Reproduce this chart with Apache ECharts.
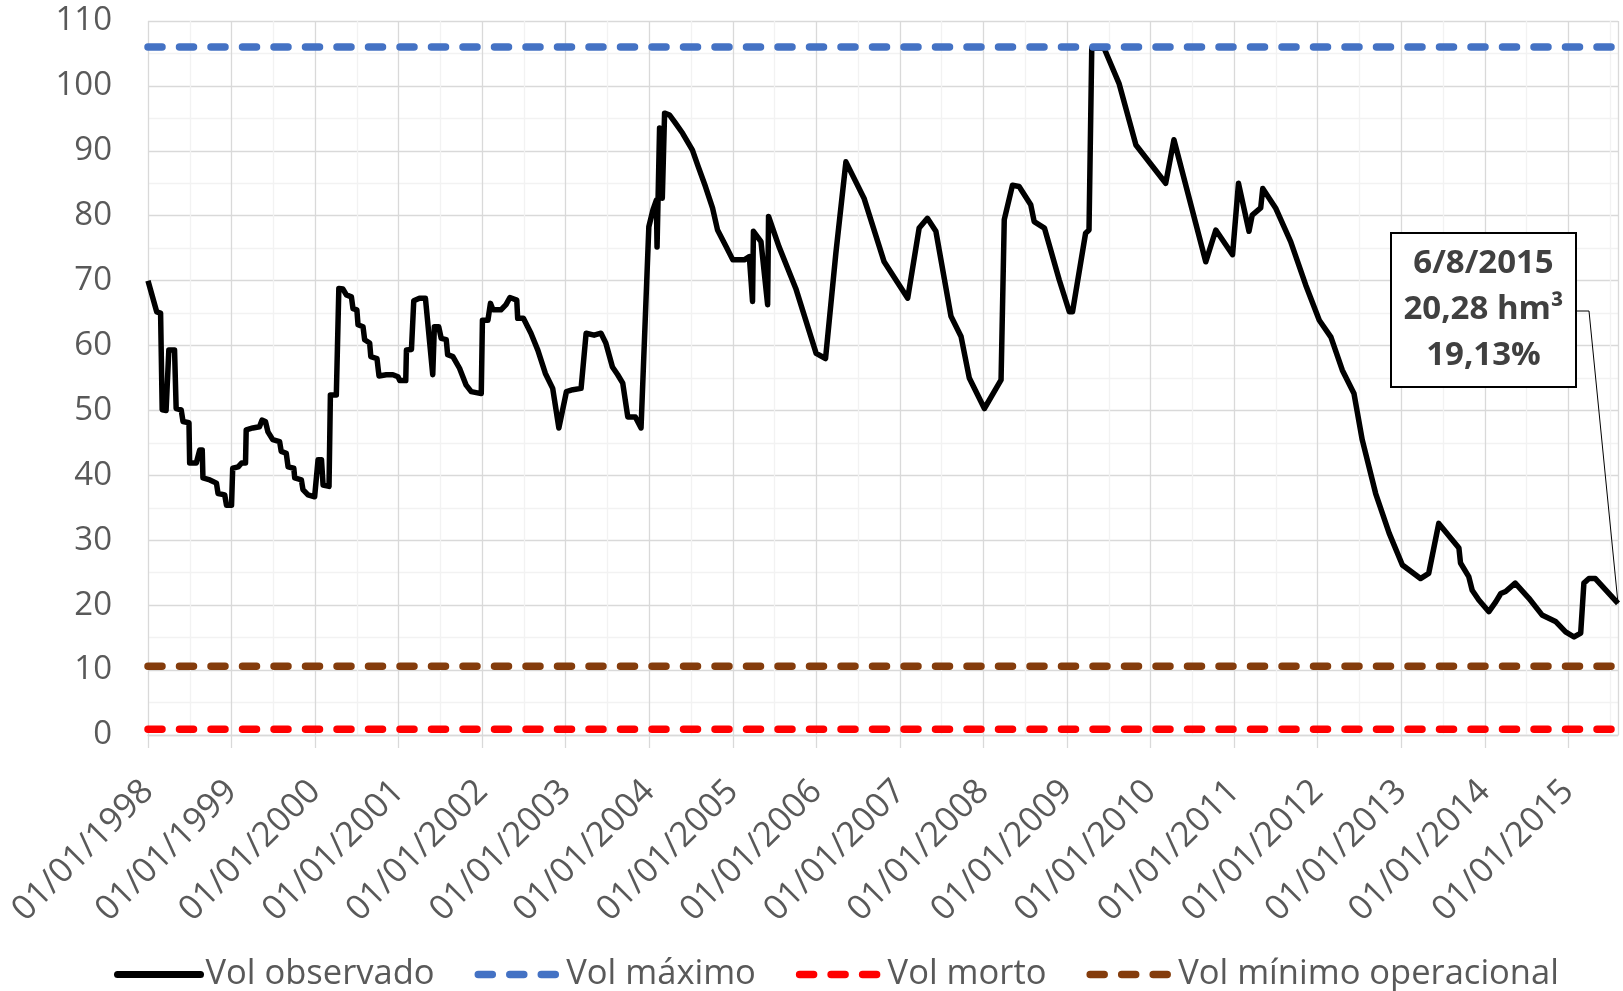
<!DOCTYPE html>
<html>
<head>
<meta charset="utf-8">
<script src="https://cdn.jsdelivr.net/npm/echarts@6/dist/echarts.min.js"></script>
<style>
  html, body { margin: 0; padding: 0; background: #fff; }
  #chart { width: 1623px; height: 991px; }
</style>
</head>
<body>
<div id="chart"></div>
<script>
// Vol observado (hm³) - datas e volumes
const dates = [
  '1998-01-01','1998-02-08','1998-02-25','1998-03-04','1998-03-21','1998-04-02','1998-04-27','1998-05-04','1998-05-26','1998-06-03',
  '1998-06-29','1998-07-02','1998-07-31','1998-08-15','1998-08-26','1998-08-29','1998-09-28','1998-10-27','1998-11-03','1998-12-02',
  '1998-12-10','1999-01-01','1999-01-06','1999-01-30','1999-02-14','1999-03-03','1999-03-06','1999-04-04','1999-05-03','1999-05-14',
  '1999-05-29','1999-06-09','1999-06-30','1999-07-30','1999-08-06','1999-08-28','1999-09-05','1999-09-30','1999-10-04','1999-11-02',
  '1999-11-09','1999-12-01','1999-12-30','2000-01-14','2000-01-29','2000-02-05','2000-03-02','2000-03-08','2000-04-03','2000-04-14',
  '2000-05-02','2000-05-17','2000-06-08','2000-06-15','2000-07-02','2000-07-07','2000-07-29','2000-08-05','2000-08-27','2000-09-01',
  '2000-09-28','2000-10-07','2000-11-08','2000-12-07','2000-12-29','2001-01-06','2001-02-01','2001-02-04','2001-02-26','2001-03-08',
  '2001-04-02','2001-04-28','2001-05-30','2001-06-06','2001-06-25','2001-07-06','2001-07-28','2001-08-03','2001-08-26','2001-09-24',
  '2001-10-23','2001-11-14','2001-12-28','2002-01-02','2002-01-26','2002-02-06','2002-02-17','2002-03-24','2002-04-15','2002-05-02',
  '2002-06-01','2002-06-05','2002-06-30','2002-08-02','2002-09-01','2002-10-04','2002-11-05','2002-12-02','2003-01-04','2003-02-01',
  '2003-03-09','2003-03-31','2003-05-05','2003-06-04','2003-06-25','2003-07-24','2003-08-16','2003-09-07','2003-09-29','2003-11-01',
  '2003-11-26','2003-12-30','2004-01-17','2004-02-01','2004-02-04','2004-02-15','2004-02-27','2004-03-08','2004-03-30','2004-04-20',
  '2004-05-26','2004-07-08','2004-07-31','2004-09-03','2004-10-04','2004-10-26','2004-11-29','2005-01-01','2005-02-20','2005-03-14',
  '2005-03-28','2005-04-01','2005-05-04','2005-06-02','2005-06-06','2005-07-22','2005-10-03','2005-12-31','2006-02-10','2006-03-27',
  '2006-05-10','2006-07-28','2006-10-24','2007-02-04','2007-03-26','2007-05-01','2007-06-07','2007-08-12','2007-09-25','2007-10-31',
  '2008-01-05','2008-03-18','2008-04-01','2008-05-07','2008-06-05','2008-07-26','2008-08-10','2008-09-24','2008-11-28','2009-01-11',
  '2009-01-25','2009-03-23','2009-04-07','2009-04-19','2009-06-12','2009-08-16','2009-10-29','2010-03-08','2010-04-13','2010-08-30',
  '2010-10-13','2010-12-25','2011-01-20','2011-03-07','2011-03-21','2011-04-27','2011-05-06','2011-07-01','2011-09-05','2011-11-10',
  '2012-01-08','2012-02-28','2012-04-18','2012-06-08','2012-07-14','2012-09-11','2012-11-09','2013-01-06','2013-03-26','2013-05-01',
  '2013-06-14','2013-09-10','2013-09-17','2013-10-23','2013-11-07','2013-12-06','2014-01-19','2014-02-18','2014-03-12','2014-04-02',
  '2014-05-14','2014-07-12','2014-09-08','2014-11-06','2014-12-20','2015-01-26','2015-02-24','2015-03-10','2015-04-01','2015-04-29',
  '2015-08-06'
]
const volObservado = [
  70.0, 65.2, 65.0, 50.1, 50.0, 59.3, 59.3, 50.3, 50.1, 48.3,
  48.1, 41.9, 41.9, 43.9, 43.9, 39.6, 39.3, 38.8, 37.2, 37.0,
  35.4, 35.4, 41.1, 41.3, 41.9, 41.9, 47.0, 47.3, 47.5, 48.5,
  48.3, 46.7, 45.5, 45.2, 43.7, 43.4, 41.3, 41.1, 39.6, 39.3,
  37.8, 37.0, 36.7, 42.4, 42.4, 38.5, 38.3, 52.4, 52.4, 68.8,
  68.7, 67.8, 67.5, 65.7, 65.5, 63.2, 62.9, 60.9, 60.4, 58.3,
  58.0, 55.3, 55.5, 55.5, 55.2, 54.6, 54.6, 59.3, 59.4, 66.9,
  67.3, 67.3, 55.5, 62.9, 62.9, 61.1, 60.9, 58.6, 58.3, 56.5,
  53.9, 52.9, 52.6, 63.9, 63.9, 66.5, 65.5, 65.5, 66.3, 67.4,
  67.0, 64.2, 64.2, 61.9, 59.3, 55.7, 53.4, 47.3, 52.9, 53.2,
  53.4, 61.9, 61.6, 61.9, 60.4, 56.7, 55.5, 54.2, 49.0, 49.0,
  47.3, 78.3, 80.9, 82.4, 75.2, 93.5, 82.7, 95.8, 95.5, 94.5,
  92.7, 90.1, 87.8, 84.5, 81.2, 77.8, 75.5, 73.2, 73.2, 73.7,
  66.8, 77.6, 76.0, 66.3, 79.9, 75.2, 68.8, 58.8, 58.0, 74.2,
  88.3, 82.7, 72.9, 67.3, 78.1, 79.6, 77.6, 64.5, 61.4, 55.0,
  50.3, 54.7, 79.4, 84.7, 84.5, 81.7, 79.1, 78.1, 70.1, 65.2,
  65.2, 77.3, 77.8, 105.8, 105.8, 100.4, 90.9, 85.0, 91.7, 72.9,
  77.8, 74.0, 85.0, 77.6, 80.1, 81.2, 84.2, 81.2, 76.0, 69.3,
  63.9, 61.3, 56.2, 52.6, 45.5, 37.2, 31.1, 26.2, 24.1, 24.9,
  32.6, 28.8, 26.5, 24.4, 22.3, 20.8, 19.0, 20.5, 21.8, 22.1,
  23.4, 21.1, 18.5, 17.5, 15.9, 15.1, 15.7, 23.4, 24.1, 24.1,
  20.28
]

// volumes de referência (hm³)
const volMaximo = 106
const volMorto = 0.9
const volMinimoOperacional = 10.6

const seriesNames = ['Vol observado', 'Vol máximo', 'Vol morto', 'Vol mínimo operacional']
const seriesColors = ['#000000', '#4472c4', '#ff0000', '#843c0c']
const yTicks = { min: 0, max: 110, interval: 10 }
const annotDate = '6/8/2015'

// data -> ano decimal (eixo em anos)
const toYear = (s) => {
  const d = new Date(s + 'T00:00:00Z')
  const y = d.getUTCFullYear()
  const a = Date.UTC(y, 0, 1)
  const b = Date.UTC(y + 1, 0, 1)
  return y + (d.getTime() - a) / (b - a)
}

const xMin = 1998
const xMax = toYear(dates[dates.length - 1])
const observado = dates.map((d, i) => [toYear(d), volObservado[i]])
const flat = (v) => [[xMin, v], [xMax, v]]

const font = 'Open Sans'
const gray = '#595959'
const dash = [14, 17.5]

const chart = echarts.init(document.getElementById('chart'))

// estilo das linhas (série e legenda)
const lineStyles = [
  { color: seriesColors[0], width: 5.5, type: 'solid', join: 'round' },
  { color: seriesColors[1], width: 7.5, type: dash, cap: 'round' },
  { color: seriesColors[2], width: 7.5, type: dash, cap: 'round' },
  { color: seriesColors[3], width: 7.5, type: dash, cap: 'round' }
]

const option = {
  backgroundColor: '#fff',
  animation: false,
  textStyle: { fontFamily: font },
  grid: { left: 148, right: 5, top: 21, bottom: 256, containLabel: false },
  legend: {
    left: 109,
    top: 952,
    itemWidth: 83,
    itemHeight: 14,
    itemGap: 40,
    data: seriesNames.map((n, i) => ({
      name: n,
      itemStyle: { opacity: 0, color: 'rgba(0,0,0,0)', borderWidth: 0 },
      lineStyle: Object.assign({}, lineStyles[i], { width: i === 0 ? 7 : 7.5, cap: 'round' })
    })),
    textStyle: { fontSize: 34.5, color: gray, fontFamily: font }
  },
  xAxis: [{
    type: 'value',
    min: xMin,
    max: xMax,
    interval: 1,
    axisLine: { show: true, lineStyle: { color: '#d9d9d9', width: 1.3 } },
    axisTick: { show: true, length: 13, lineStyle: { color: '#d9d9d9', width: 1.3 } },
    axisLabel: {
      rotate: 45,
      margin: 51,
      fontSize: 34.5,
      color: gray,
      fontFamily: font,
      showMaxLabel: false,
      formatter: (v) => (Number.isInteger(v) ? '01/01/' + v : '')
    },
    splitLine: { show: true, lineStyle: { color: '#d9d9d9', width: 1.3 } }
  }, {
    // linhas de grade secundárias (meio do ano)
    type: 'value',
    min: xMin,
    max: xMax,
    interval: 0.5,
    axisLine: { show: false },
    axisTick: { show: false },
    axisLabel: { show: false },
    splitLine: { show: true, lineStyle: { color: ['rgba(0,0,0,0)', '#f2f2f2'], width: 1.3 } }
  }],
  yAxis: {
    type: 'value',
    min: yTicks.min,
    max: yTicks.max,
    interval: yTicks.interval,
    axisLine: { show: false },
    axisTick: { show: false },
    axisLabel: { fontSize: 33, color: gray, fontFamily: font, margin: 36 },
    splitLine: { show: true, lineStyle: { color: '#d9d9d9', width: 1.3 } },
    minorTick: { show: false, splitNumber: 2 },
    minorSplitLine: { show: true, lineStyle: { color: '#f2f2f2', width: 1.3 } }
  },
  series: [
    { data: observado },
    { data: flat(volMaximo) },
    { data: flat(volMorto) },
    { data: flat(volMinimoOperacional) }
  ].map((s, i) => ({
    name: seriesNames[i],
    type: 'line',
    symbol: 'none',
    data: s.data,
    lineStyle: lineStyles[i],
    itemStyle: { color: seriesColors[i] }
  }))
}

chart.setOption(option)

// rótulo do último ponto observado
const last = observado[observado.length - 1]
const lastPx = chart.convertToPixel({ xAxisIndex: 0, yAxisIndex: 0 }, last)
const pct = (last[1] / volMaximo * 100).toFixed(2).replace('.', ',')
const vol = last[1].toFixed(2).replace('.', ',')
const box = { x: 1391, y: 233, w: 185, h: 154 }

chart.setOption({
  graphic: [{
    type: 'polyline',
    z: 100,
    shape: { points: [[box.x + box.w, 311], [box.x + box.w + 13, 311], lastPx] },
    style: { stroke: '#000', lineWidth: 1, fill: null }
  }, {
    type: 'rect',
    z: 100,
    shape: { x: box.x, y: box.y, width: box.w, height: box.h },
    style: { fill: '#fff', stroke: '#000', lineWidth: 2 }
  }, {
    type: 'text',
    z: 101,
    x: box.x + box.w / 2,
    y: box.y + box.h / 2,
    style: {
      text: annotDate + '\n' + vol + ' hm³\n' + pct + '%',
      font: 'bold 33px "Open Sans"',
      fill: '#404040',
      align: 'center',
      verticalAlign: 'middle',
      lineHeight: 46
    }
  }]
})
</script>
</body>
</html>
